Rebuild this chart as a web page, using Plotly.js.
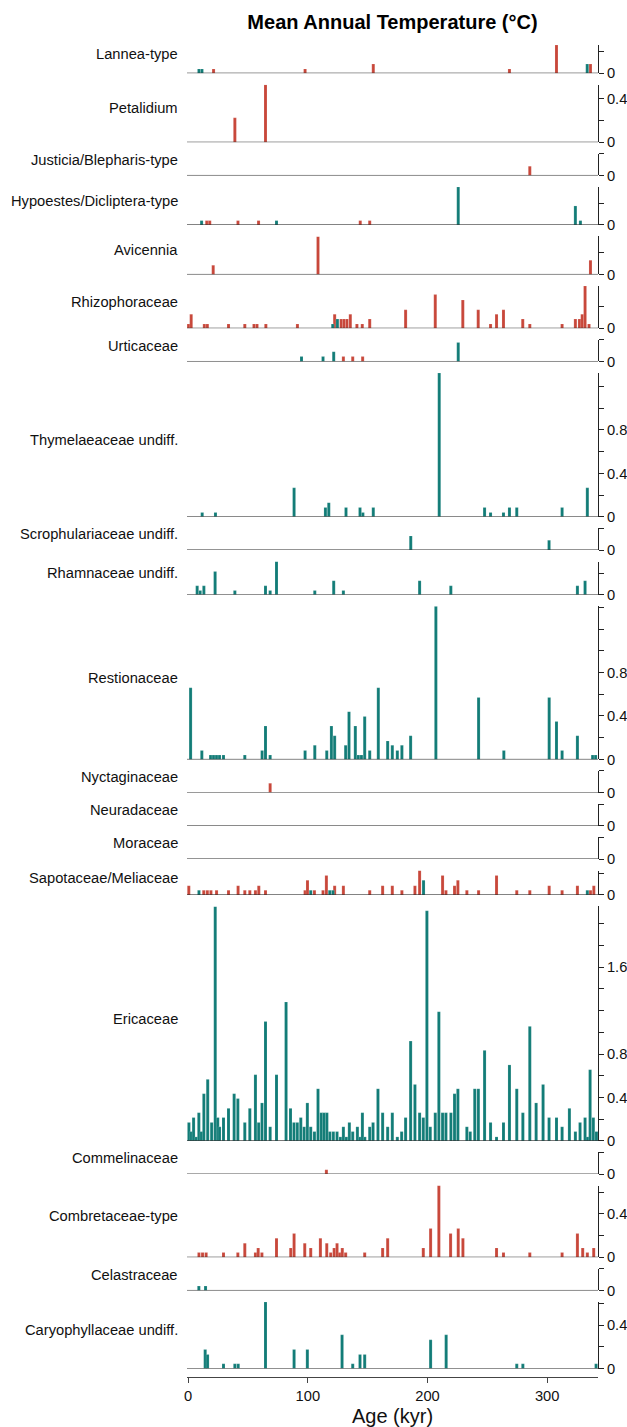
<!DOCTYPE html>
<html>
<head>
<meta charset="utf-8">
<script src="https://cdn.plot.ly/plotly-3.0.1.min.js"></script>
<style>
  html, body { margin: 0; padding: 0; background: #fff; }
  #chart { width: 627px; height: 1427px; }
</style>
</head>
<body>
<div id="chart"></div>
<script>
// ---------------- DATA (age in kyr, value) ----------------
const taxa = [
  "Lannea-type", "Petalidium", "Justicia/Blepharis-type", "Hypoestes/Dicliptera-type",
  "Avicennia", "Rhizophoraceae", "Urticaceae", "Thymelaeaceae undiff.",
  "Scrophulariaceae undiff.", "Rhamnaceae undiff.", "Restionaceae", "Nyctaginaceae",
  "Neuradaceae", "Moraceae", "Sapotaceae/Meliaceae", "Ericaceae",
  "Commelinaceae", "Combretaceae-type", "Celastraceae", "Caryophyllaceae undiff."
];

const lanneaRedAge = [21.2, 97.7, 154.7, 268.5, 307.8, 336.2];
const lanneaRedVal = [0.04, 0.04, 0.085, 0.04, 0.26, 0.085];
const lanneaTealAge = [9, 11.5, 333.5];
const lanneaTealVal = [0.04, 0.04, 0.085];

const petalidiumRedAge = [39, 64.6];
const petalidiumRedVal = [0.225, 0.53];

const justiciaRedAge = [285.5];
const justiciaRedVal = [0.085];

const hypoestesRedAge = [15.5, 18, 41.6, 58.8, 143.8, 151.7];
const hypoestesRedVal = [0.04, 0.04, 0.04, 0.04, 0.04, 0.04];
const hypoestesTealAge = [11.2, 73.8, 225.7, 323.6, 327.8];
const hypoestesTealVal = [0.04, 0.04, 0.35, 0.175, 0.04];

const avicenniaRedAge = [20.9, 108.5, 336.2];
const avicenniaRedVal = [0.085, 0.35, 0.13];

const rhizoRedAge = [0.3, 2.5, 13.5, 16, 33.7, 47.3, 55, 57.5, 64.9, 91.3, 122.4, 127.8, 130.2, 132.7, 135.5, 141, 145.5, 151.7, 181.7, 206.5, 229.5, 242.4, 252.7, 257.7, 263.5, 279.6, 285.5, 312.5, 323.6, 327, 329.3, 331.7, 335];
const rhizoRedVal = [0.04, 0.13, 0.04, 0.04, 0.04, 0.04, 0.04, 0.04, 0.04, 0.04, 0.13, 0.085, 0.085, 0.085, 0.13, 0.04, 0.04, 0.085, 0.17, 0.31, 0.26, 0.17, 0.04, 0.13, 0.17, 0.085, 0.04, 0.04, 0.085, 0.085, 0.13, 0.39, 0.04];
const rhizoTealAge = [120.8, 124.7];
const rhizoTealVal = [0.04, 0.085];

const urticaRedAge = [129.7, 137.5, 145.8];
const urticaRedVal = [0.045, 0.045, 0.045];
const urticaTealAge = [94.7, 112.7, 121.6, 225.7];
const urticaTealVal = [0.045, 0.045, 0.09, 0.175];

const thymTealAge = [11.7, 22.8, 88.5, 114.7, 117.5, 131.9, 143.6, 146, 154.7, 209.8, 247.7, 252.7, 263.5, 268.5, 274.6, 312.5, 333.6];
const thymTealVal = [0.04, 0.04, 0.267, 0.086, 0.13, 0.086, 0.086, 0.04, 0.086, 1.325, 0.086, 0.04, 0.04, 0.086, 0.086, 0.086, 0.267];

const scrophTealAge = [186, 301.6];
const scrophTealVal = [0.13, 0.09];

const rhamnTealAge = [7.5, 10, 13.1, 22.5, 39, 64.6, 68.5, 73.8, 105.8, 121.6, 129.7, 193.4, 219.5, 325.3, 331.7];
const rhamnTealVal = [0.083, 0.04, 0.083, 0.215, 0.04, 0.083, 0.04, 0.307, 0.04, 0.13, 0.04, 0.13, 0.083, 0.083, 0.13];

const restioTealAge = [2, 11.4, 18.7, 21.2, 23.7, 26.2, 29.5, 47.3, 61.8, 64.6, 68.5, 97.7, 105.8, 115.8, 119.7, 122.4, 131.6, 134.4, 139.7, 142.2, 144.8, 147.5, 151.7, 158.9, 166.7, 170.6, 174.8, 178.6, 185.9, 207, 242.7, 263.8, 301.7, 307.8, 312.5, 325.3, 338, 340.5];
const restioTealVal = [0.66, 0.083, 0.04, 0.04, 0.04, 0.04, 0.04, 0.04, 0.083, 0.307, 0.04, 0.083, 0.13, 0.083, 0.307, 0.218, 0.13, 0.44, 0.307, 0.04, 0.04, 0.396, 0.083, 0.66, 0.17, 0.13, 0.083, 0.13, 0.218, 1.41, 0.57, 0.083, 0.57, 0.35, 0.083, 0.218, 0.04, 0.04];

const nyctRedAge = [68.5];
const nyctRedVal = [0.085];

const sapoRedAge = [0.5, 13, 16, 19, 23.7, 33.7, 41.7, 47.3, 51.5, 56.2, 59, 64.6, 97.7, 99.7, 105.5, 112.7, 115.5, 122.4, 129.7, 151.7, 162.5, 170.6, 178.6, 189.5, 193.4, 212.6, 215.4, 222.6, 225.4, 232.9, 242.7, 257.7, 274.6, 285.5, 301.7, 312.5, 325.3, 336.2, 339];
const sapoRedVal = [0.085, 0.043, 0.043, 0.043, 0.043, 0.043, 0.085, 0.043, 0.043, 0.043, 0.085, 0.043, 0.043, 0.135, 0.043, 0.043, 0.18, 0.085, 0.085, 0.043, 0.085, 0.085, 0.043, 0.085, 0.225, 0.18, 0.043, 0.085, 0.135, 0.043, 0.043, 0.18, 0.043, 0.043, 0.085, 0.043, 0.085, 0.043, 0.085];
const sapoTealAge = [9, 102.4, 118.3, 121, 196.7, 333.6];
const sapoTealVal = [0.043, 0.043, 0.043, 0.043, 0.135, 0.043];

const ericTealAge = [0.6, 2.5, 4.5, 6.7, 8.9, 11.0, 13.1, 16.3, 19.6, 22.6, 24.7, 26.2, 29.5, 33.7, 38.4, 41.5, 47.3, 51.5, 56.2, 58.9, 61.7, 64.6, 68.5, 73.8, 81.8, 85.5, 88.4, 91.2, 94.1, 96.9, 99.6, 102.4, 105.5, 108.5, 111.2, 113.5, 115.9, 118.4, 121.3, 124.4, 127.2, 129.7, 132.2, 134.7, 137.5, 141.4, 143.5, 145.6, 147.6, 151.7, 154.5, 158.6, 162.5, 166.7, 170.6, 174.8, 178.4, 181.7, 185.9, 189.5, 193.4, 196.5, 199.5, 202.3, 206.5, 209.5, 212.6, 215.4, 219.6, 222.6, 225.4, 232.9, 235.7, 239.5, 242.5, 247.7, 252.7, 257.7, 263.5, 268.5, 274.6, 279.7, 285.5, 290.8, 296.6, 301.6, 307.8, 312.5, 318.6, 323.6, 327.5, 331.7, 333.8, 335.9, 338.6, 341.2];
const ericTealVal = [0.17, 0.086, 0.215, 0.037, 0.26, 0.086, 0.435, 0.567, 0.17, 2.16, 0.215, 0.13, 0.215, 0.30, 0.435, 0.39, 0.17, 0.30, 0.61, 0.17, 0.35, 1.10, 0.13, 0.61, 1.28, 0.30, 0.17, 0.17, 0.215, 0.13, 0.35, 0.13, 0.086, 0.48, 0.26, 0.26, 0.26, 0.086, 0.086, 0.086, 0.037, 0.13, 0.037, 0.17, 0.086, 0.13, 0.037, 0.26, 0.037, 0.13, 0.17, 0.48, 0.26, 0.13, 0.26, 0.037, 0.086, 0.215, 0.92, 0.52, 0.26, 0.215, 2.12, 0.13, 0.26, 1.19, 0.26, 0.26, 0.26, 0.435, 0.48, 0.13, 0.086, 0.48, 0.48, 0.834, 0.17, 0.037, 0.17, 0.70, 0.48, 0.26, 1.055, 0.35, 0.52, 0.215, 0.215, 0.13, 0.30, 0.086, 0.17, 0.215, 0.037, 0.656, 0.215, 0.086];

const commRedAge = [115.5];
const commRedVal = [0.04];

const combRedAge = [9, 12, 15, 29.5, 41.5, 47.3, 56.2, 58.5, 61.6, 73.8, 85.7, 88.5, 97.4, 102.4, 110.5, 115.8, 119.1, 122, 124.4, 126.6, 128.8, 131.6, 147.5, 162.5, 166.7, 196.5, 202.6, 209.5, 219.3, 225.7, 229.6, 257.7, 263.5, 285.5, 312.5, 325.3, 329.7, 333.6, 338.9];
const combRedVal = [0.043, 0.043, 0.043, 0.043, 0.043, 0.13, 0.043, 0.086, 0.043, 0.175, 0.086, 0.218, 0.13, 0.086, 0.175, 0.13, 0.043, 0.086, 0.13, 0.043, 0.086, 0.043, 0.043, 0.086, 0.175, 0.086, 0.264, 0.66, 0.218, 0.264, 0.175, 0.086, 0.043, 0.043, 0.043, 0.218, 0.086, 0.043, 0.086];

const celaTealAge = [8.9, 14.5];
const celaTealVal = [0.04, 0.04];

const caryoTealAge = [14.2, 16.2, 29.5, 39, 41.8, 64.6, 88.5, 99.6, 128.6, 137.5, 143.6, 147.5, 202.6, 215.6, 274.6, 279.7, 340.9];
const caryoTealVal = [0.175, 0.13, 0.043, 0.043, 0.043, 0.613, 0.175, 0.175, 0.31, 0.043, 0.13, 0.13, 0.264, 0.31, 0.043, 0.043, 0.043];

const xTickVals = [0, 100, 200, 300];
const labelledTicks = [0, 0.4, 0.8, 1.6];

// per-taxon series: [redAge, redVal, tealAge, tealVal]
const E = [];
const series = [
  [lanneaRedAge, lanneaRedVal, lanneaTealAge, lanneaTealVal],
  [petalidiumRedAge, petalidiumRedVal, E, E],
  [justiciaRedAge, justiciaRedVal, E, E],
  [hypoestesRedAge, hypoestesRedVal, hypoestesTealAge, hypoestesTealVal],
  [avicenniaRedAge, avicenniaRedVal, E, E],
  [rhizoRedAge, rhizoRedVal, rhizoTealAge, rhizoTealVal],
  [urticaRedAge, urticaRedVal, urticaTealAge, urticaTealVal],
  [E, E, thymTealAge, thymTealVal],
  [E, E, scrophTealAge, scrophTealVal],
  [E, E, rhamnTealAge, rhamnTealVal],
  [E, E, restioTealAge, restioTealVal],
  [nyctRedAge, nyctRedVal, E, E],
  [E, E, E, E],
  [E, E, E, E],
  [sapoRedAge, sapoRedVal, sapoTealAge, sapoTealVal],
  [E, E, ericTealAge, ericTealVal],
  [commRedAge, commRedVal, E, E],
  [combRedAge, combRedVal, E, E],
  [E, E, celaTealAge, celaTealVal],
  [E, E, caryoTealAge, caryoTealVal]
];

// ---------------- STYLE / LAYOUT ----------------
const RED = '#C8473A';
const TEAL = '#127C77';
const FONT = '"Liberation Sans", Arial, Helvetica, sans-serif';
const W = 627, H = 1427;
const mTop = 45, mBottom = 50, mLeft = 187, mRight = 29;
const plotH = H - mTop - mBottom;
const bottomPad = 8.5, gapPx = 11.5;
const barWidth = 2.5;

const n = taxa.length;
const ranges = series.map(s => Math.max(0.2, ...s[1], ...s[3]));
const sumR = ranges.reduce((a, b) => a + b, 0);
const k = (plotH - bottomPad - gapPx * (n - 1)) / sumR;

const traces = [];
const layout = {
  width: W, height: H,
  margin: {t: mTop, b: mBottom, l: mLeft, r: mRight, pad: 0},
  paper_bgcolor: '#fff', plot_bgcolor: '#fff',
  showlegend: false,
  barmode: 'overlay',
  font: {family: FONT, size: 14.7, color: '#111'},
  title: {
    text: 'Mean Annual Temperature (°C)',
    font: {family: FONT, size: 20, weight: 'bold', color: '#000'},
    x: 0.5, xref: 'paper', xanchor: 'center',
    y: 1 - 22 / H, yref: 'container', yanchor: 'middle'
  },
  xaxis: {
    range: [-1, 342.5], anchor: 'free', position: 0,
    showgrid: false, zeroline: false, showline: true, linecolor: '#444', linewidth: 1,
    ticks: 'outside', ticklen: 5, tickcolor: '#444', tickwidth: 1,
    tickvals: xTickVals, ticktext: xTickVals.map(String),
    tickfont: {size: 14.7, color: '#111'},
    title: {text: 'Age (kyr)', font: {size: 20, color: '#111'}, standoff: 6},
    fixedrange: true
  },
  annotations: [],
  shapes: []
};

let cursor = 0;
for (let i = 0; i < n; i++) {
  const top = cursor;
  const bottom = cursor + ranges[i] * k;
  cursor = bottom + gapPx;
  const dom = [1 - bottom / plotH, 1 - top / plotH];
  const yid = i === 0 ? 'y' : 'y' + (i + 1);
  const yname = i === 0 ? 'yaxis' : 'yaxis' + (i + 1);

  const tv = [];
  for (let t = 0; t <= ranges[i] + 1e-9; t += 0.2) tv.push(Math.round(t * 10) / 10);
  const tt = tv.map(v => labelledTicks.some(l => Math.abs(l - v) < 1e-9) ? String(v) : '');

  layout[yname] = {
    domain: dom, range: [0, ranges[i]], anchor: 'x', side: 'right',
    showgrid: false, zeroline: false, showline: true, linecolor: '#222', linewidth: 1,
    ticks: 'outside', ticklen: 5, tickcolor: '#222', tickwidth: 1,
    tickvals: tv, ticktext: tt, tickfont: {size: 14.7, color: '#111'},
    fixedrange: true
  };

  const s = series[i];
  if (s[0].length) traces.push({
    type: 'bar', x: s[0], y: s[1], width: barWidth, xaxis: 'x', yaxis: yid,
    marker: {color: RED, line: {width: 0.3, color: 'rgba(255,255,255,0.5)'}}, hoverinfo: 'x+y'
  });
  if (s[2].length) traces.push({
    type: 'bar', x: s[2], y: s[3], width: barWidth, xaxis: 'x', yaxis: yid,
    marker: {color: TEAL, line: {width: 0.3, color: 'rgba(255,255,255,0.5)'}}, hoverinfo: 'x+y'
  });

  layout.shapes.push({
    type: 'line', xref: 'paper', x0: 0, x1: 1, yref: yid, y0: 0, y1: 0,
    line: {color: '#222', width: 1}
  });

  layout.annotations.push({
    text: taxa[i], xref: 'paper', x: 0, xanchor: 'right', xshift: -7,
    yref: 'paper', y: (dom[0] + dom[1]) / 2, yanchor: 'middle', yshift: 5,
    showarrow: false, font: {family: FONT, size: 14.7, color: '#111'}
  });
}

Plotly.newPlot('chart', traces, layout, {displayModeBar: false, staticPlot: true});
</script>
</body>
</html>
